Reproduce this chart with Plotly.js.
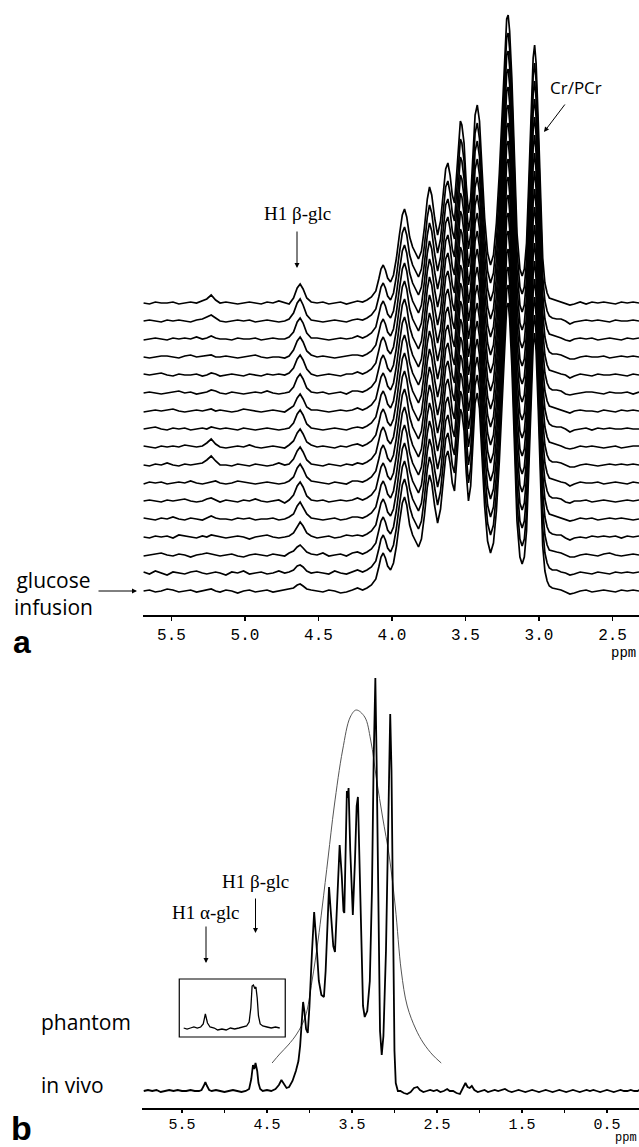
<!DOCTYPE html>
<html>
<head>
<meta charset="utf-8">
<script src="https://cdn.plot.ly/plotly-3.0.1.min.js"></script>
<style>html,body{margin:0;padding:0;background:#fff;}#chart{width:639px;height:1147px;}</style>
</head>
<body>
<div id="chart"></div>
<script>
// ---------------- Panel a : stacked spectra during glucose infusion ----------------
// chemical-shift grid (ppm)
const ppmLeft = [5.69, 5.65, 5.61, 5.57, 5.53, 5.49, 5.45, 5.41, 5.37, 5.33, 5.29, 5.26, 5.23, 5.20, 5.17, 5.13, 5.09, 5.05, 5.01, 4.97, 4.93, 4.89, 4.85, 4.81, 4.77, 4.73, 4.70, 4.67, 4.645, 4.625, 4.605, 4.58, 4.55, 4.51, 4.47, 4.43, 4.39, 4.35, 4.31, 4.27, 4.235];
const ppmCore = [4.20, 4.17, 4.14, 4.11, 4.09, 4.075, 4.06, 4.045, 4.03, 4.01, 3.99, 3.97, 3.95, 3.93, 3.915, 3.90, 3.88, 3.86, 3.84, 3.82, 3.80, 3.78, 3.76, 3.745, 3.73, 3.71, 3.69, 3.67, 3.65, 3.635, 3.62, 3.605, 3.59, 3.575, 3.56, 3.545, 3.535, 3.525, 3.51, 3.495, 3.48, 3.465, 3.45, 3.435, 3.42, 3.405, 3.39, 3.37, 3.35, 3.33, 3.31, 3.29, 3.27, 3.25, 3.235, 3.22, 3.21, 3.20, 3.185, 3.17, 3.15, 3.13, 3.115, 3.10, 3.085, 3.07, 3.055, 3.04, 3.03, 3.02, 3.005, 2.99, 2.975, 2.96, 2.945, 2.93];
const ppmRight = [2.91, 2.88, 2.85, 2.82, 2.79, 2.76, 2.72, 2.68, 2.64, 2.60, 2.56, 2.52, 2.48, 2.44, 2.40, 2.36, 2.32];

// metabolite region (Cr/PCr, Cho, Tau, Ins, ...) intensity
const coreIntensity = [1, 3, 6, 12, 24, 34, 38, 33, 25, 21, 28, 45, 68, 88, 94, 86, 66, 56, 50, 44, 52, 75, 104, 116, 108, 85, 68, 82, 112, 134, 140, 128, 108, 100, 130, 168, 182, 178, 160, 118, 90, 105, 150, 188, 198, 182, 140, 85, 50, 38, 48, 80, 130, 195, 250, 284, 288, 272, 225, 150, 70, 34, 27, 34, 60, 120, 190, 245, 258, 240, 180, 100, 45, 20, 10, 5];

// per-scan left part (noise + H1 beta-glc at 4.63 ppm), scan 1 = start of glucose infusion
const scanLeft = [
 [0,1,-1,0,2,1,-1,0,1,-1,0, 1,2,0,-1, 1,0,-2,0,1,-1,0,1,-1,0,1, 2,3,6,7,5,2,1, 0,-1,1,0,-2,-1,1,3],
 [1,-1,2,0,-2,1,0,-1,1,2,0, -1,0,1,0, -2,1,0,2,-1,0,1,-1,0,2,0, 1,3,7,8,6,2,0, 1,0,-1,2,0,-1,1,3],
 [-1,0,1,2,0,-1,1,0,-2,0,1, 2,1,0,-1, 0,1,-1,-2,0,1,0,-1,1,0,-1, 2,4,8,10,7,3,1, 0,2,-1,0,1,-1,2,3],
 [0,-1,1,0,1,-1,2,1,0,-1,1, 0,2,1,0, -1,0,1,0,-2,0,1,2,0,-1,0, 1,4,11,15,11,4,1, -1,0,1,-1,0,2,1,2],
 [1,0,-1,1,0,2,0,-1,1,0,-1, 1,3,1,0, 0,-1,1,0,1,-1,0,0,1,-1,0, 2,5,13,17,12,5,1, 0,-1,0,1,-1,0,2,2],
 [0,1,0,-1,1,0,1,2,0,-1,0, 2,3,1,-1, 1,0,-1,1,0,2,0,-1,0,1,-2, 1,6,15,19,14,5,1, 0,1,-1,0,1,0,1,3],
 [-1,1,0,1,-1,0,1,0,2,0,-1, 0,1,2,0, -1,0,2,1,0,-1,0,1,0,-1,0, 2,6,15,19,14,6,2, 1,0,-1,1,0,-1,2,2],
 [0,-1,1,0,2,0,-1,1,0,1,2, 5,9,4,0, 0,-1,1,0,-1,1,0,-1,0,2,0, 1,6,14,18,13,5,1, 0,-1,1,0,-1,1,0,2],
 [1,0,-1,1,0,1,0,2,1,0,1, 4,8,3,0, -1,0,1,0,2,0,-1,0,1,0,-1, 2,6,14,18,13,5,2, 0,1,0,-1,1,0,2,3],
 [0,1,2,0,-1,1,0,1,-1,0,1, 0,2,1,0, 1,0,-1,1,0,-1,0,1,0,-1,0, 1,6,15,19,14,5,1, 0,-1,0,1,0,-1,1,2],
 [-1,0,1,0,1,2,0,-1,0,1,0, 1,2,0,1, 0,-1,0,2,1,0,-1,0,1,0,-1, 2,5,13,17,12,4,1, 1,0,-1,0,1,0,1,3],
 [0,1,0,-1,0,1,2,0,1,-1,0, 1,3,2,0, -1,1,0,-1,0,1,0,2,0,-1,0, 1,6,15,19,14,5,1, 0,1,-1,0,1,-1,2,2],
 [1,0,1,2,0,-1,1,0,0,1,-1, 0,2,1,-1, 0,1,0,-1,1,0,-1,1,0,1,0, 2,7,16,20,15,6,1, -1,0,1,0,-1,1,1,3],
 [0,-1,0,1,1,0,-1,1,2,0,1, 1,2,0,0, 1,0,-1,0,1,2,0,-1,0,0,-1, 1,7,16,20,15,6,2, 0,1,0,-1,0,1,2,2],
 [-1,0,1,0,-1,1,0,1,0,2,0, 1,3,1,0, 0,-1,1,0,0,1,-1,0,1,0,0, 2,7,17,21,16,6,1, 1,0,-1,0,1,0,1,3],
 [0,1,0,-1,1,0,1,0,-1,1,2, 4,6,3,0, -1,0,1,0,1,-1,0,1,0,-1,0, 2,8,18,22,16,6,1, 0,-1,0,1,0,-1,1,2],
 [0,-1,1,0,0,1,-1,0,1,0,2, 4,8,3,0, 1,0,-1,0,1,0,-1,1,0,2,0, -1,5,15,19,14,5,1, 0,1,-1,0,1,-1,1,2]
];
// per-scan right part (upfield baseline)
const scanRight = [
 [3,2,1,-1,-3,-2,0,1,-1,0,1,0,-1,1,0,1,0],
 [3,3,1,0,-2,-1,1,0,-1,1,0,-1,1,0,1,0,1],
 [4,3,2,0,-2,-2,0,1,0,-1,1,2,0,-1,0,1,0],
 [3,2,2,-1,-3,-1,0,-1,1,0,1,0,1,-1,1,0,1],
 [4,3,1,0,-2,-1,1,0,1,-1,0,1,0,1,0,-1,0],
 [3,3,2,-1,-2,0,0,1,-1,0,1,0,-1,0,1,0,1],
 [4,2,1,0,-3,-1,1,0,0,1,-1,0,1,0,-1,1,0],
 [3,3,2,0,-2,-2,0,1,0,-1,0,1,0,1,0,1,0],
 [4,3,1,-1,-2,-1,1,0,1,0,-1,0,1,-1,0,1,1],
 [3,2,2,0,-3,-1,0,1,-1,1,0,1,0,0,1,0,0],
 [4,3,1,0,-2,0,1,0,0,-1,1,0,-1,1,0,1,0],
 [3,3,2,-1,-2,-1,0,1,1,0,-1,1,0,0,1,-1,1],
 [4,2,1,0,-3,-1,1,0,-1,1,0,0,1,0,-1,1,0],
 [3,3,2,0,-2,-2,0,1,0,0,1,-1,0,1,0,1,0],
 [4,3,1,-1,-2,0,1,0,1,-1,0,1,0,-1,1,0,1],
 [3,2,2,0,-3,-1,0,1,0,1,0,-1,1,0,0,1,0],
 [4,3,1,0,-2,-1,1,-1,1,0,1,0,-1,1,0,1,0]
];
const tickA = [5.5, 5.0, 4.5, 4.0, 3.5, 3.0, 2.5];
const tickALabels = ['5.5', '5.0', '4.5', '4.0', '3.5', '3.0', '2.5'];

// ---------------- Panel b : in vivo spectrum, phantom inset, excitation profile ----------------
const ppmVivo = [5.95,5.90,5.85,5.80,5.75,5.70,5.65,5.60,5.55,5.50,5.45,5.40,5.35,5.30,5.27,5.245,5.225,5.205,5.18,5.15,5.10,5.05,5.00,4.95,4.90,4.85,4.80,4.75,4.71,4.685,4.665,4.65,4.635,4.615,4.60,4.58,4.55,4.50,4.45,4.40,4.36,4.33,4.30,4.27,4.24,4.20,4.16,4.13,4.11,4.09,4.075,4.06,4.04,4.02,4.00,3.97,3.945,3.92,3.89,3.86,3.83,3.81,3.79,3.77,3.75,3.72,3.70,3.67,3.645,3.62,3.60,3.59,3.575,3.56,3.55,3.54,3.52,3.50,3.49,3.465,3.445,3.43,3.41,3.39,3.37,3.35,3.32,3.29,3.265,3.245,3.225,3.21,3.19,3.17,3.15,3.13,3.10,3.075,3.05,3.035,3.015,3.00,2.985,2.96,2.93,2.89,2.85,2.81,2.77,2.73,2.70,2.66,2.62,2.58,2.54,2.50,2.46,2.42,2.38,2.35,2.31,2.27,2.23,2.20,2.165,2.14,2.115,2.09,2.06,2.02,1.98,1.94,1.90,1.86,1.82,1.78,1.74,1.70,1.66,1.62,1.58,1.54,1.50,1.46,1.42,1.38,1.34,1.30,1.26,1.22,1.18,1.14,1.10,1.06,1.02,0.98,0.94,0.90,0.86,0.82,0.78,0.74,0.70,0.66,0.62,0.58,0.54,0.50,0.46,0.42,0.38,0.34,0.30,0.26,0.22,0.18,0.14,0.12];
const vivoIntensity = [0,1,0,1,-1,0,1,0,1,0,0,1,0,0,1,5,9,5,1,0,1,0,-1,0,1,0,-1,0,2,12,26,22,28,20,8,2,0,1,0,2,6,11,7,3,4,10,20,30,45,70,89,80,62,58,85,140,179,150,110,96,94,120,170,204,180,145,139,190,246,215,180,178,240,300,293,303,240,180,176,230,285,294,230,140,85,74,80,110,200,330,413,330,160,60,36,55,140,280,377,320,150,40,8,0,0,-2,-3,-1,3,4,1,-1,0,1,0,1,-1,0,2,0,0,-2,-3,2,8,4,3,5,1,-1,0,1,-1,0,1,0,1,2,0,-1,0,1,0,-1,0,1,0,-1,0,1,0,-1,0,1,0,-1,0,1,0,-1,0,1,0,1,0,-1,0,1,0,-1,0,1,0,0,1,0,0,1];

const ppmPhantom = [5.48,5.44,5.40,5.36,5.32,5.28,5.25,5.225,5.20,5.17,5.12,5.08,5.03,4.98,4.93,4.88,4.83,4.78,4.74,4.71,4.69,4.675,4.66,4.645,4.63,4.615,4.60,4.58,4.55,4.50,4.45,4.40,4.35];
const phantomIntensity = [0,-1,0,1,0,1,4,14,5,1,0,-2,-1,-2,0,-1,0,1,2,6,20,42,43,40,41,30,12,4,2,1,0,1,0];

const ppmProfile = [4.44,4.35,4.25,4.15,4.05,3.97,3.90,3.85,3.78,3.71,3.61,3.52,3.45,3.35,3.28,3.21,3.14,3.06,2.99,2.92,2.85,2.75,2.66,2.55,2.45];
const profileIntensity = [28,37,46,57,74,110,150,184,234,284,341,374,381,374,351,311,274,234,184,120,85,62,48,36,28];

const tickB = [5.5, 5.0, 4.5, 4.0, 3.5, 3.0, 2.5, 2.0, 1.5, 1.0, 0.5];
const tickBLabels = ['5.5', '', '4.5', '', '3.5', '', '2.5', '', '1.5', '', '0.5'];

// ---------------- layout constants ----------------
const W = 639, H = 1147;
const scanBase = 24, scanStep = 18;     // stacking offsets (panel a)
const vivoBase = 17, phantomBase = 80;  // offsets (panel b)
const px = v => v / W;
const py = v => 1 - v / H;
const monoFont = 'Liberation Mono, Courier New, monospace';
const sansFont = 'Open Sans, Noto Sans, sans-serif';
const serifFont = 'Liberation Serif, Times New Roman, serif';

const traces = [];
const ppmA = ppmLeft.concat(ppmCore, ppmRight);
for (let k = scanLeft.length - 1; k >= 0; k--) {
  const vals = scanLeft[k].concat(coreIntensity, scanRight[k]);
  traces.push({
    x: ppmA, y: vals.map(v => v + scanBase + k * scanStep),
    xaxis: 'x', yaxis: 'y', mode: 'lines', hoverinfo: 'skip',
    line: {color: '#000', width: 1.7}
  });
}
traces.push({x: ppmProfile, y: profileIntensity.map(v => v + vivoBase), xaxis: 'x2', yaxis: 'y2',
  mode: 'lines', line: {color: '#555', width: 1, shape: 'spline', smoothing: 1}, hoverinfo: 'skip'});
traces.push({x: ppmVivo, y: vivoIntensity.map(v => v + vivoBase), xaxis: 'x2', yaxis: 'y2',
  mode: 'lines', line: {color: '#000', width: 1.8}, hoverinfo: 'skip'});
traces.push({x: ppmPhantom, y: phantomIntensity.map(v => v + phantomBase), xaxis: 'x2', yaxis: 'y2',
  mode: 'lines', line: {color: '#000', width: 1.3}, hoverinfo: 'skip'});

const axisCommon = {
  showline: true, linecolor: '#000', linewidth: 1.6, ticks: 'outside', ticklen: 4,
  tickwidth: 1.4, tickcolor: '#000', showgrid: false, zeroline: false,
  tickfont: {family: monoFont, size: 16, color: '#000'}, fixedrange: true
};

const arrow = (hx, hy, tx, ty) => ({
  xref: 'paper', yref: 'paper', x: px(hx), y: py(hy), ax: tx - hx, ay: ty - hy,
  text: '', showarrow: true, arrowhead: 2, arrowsize: 1, arrowwidth: 1, arrowcolor: '#000', standoff: 0
});
const label = (text, cx, cy, font, size, anchor, bold, vanchor) => ({
  xref: 'paper', yref: 'paper', x: px(cx), y: py(cy), text: bold ? '<b>' + text + '</b>' : text,
  showarrow: false, xanchor: anchor || 'center', yanchor: vanchor || 'middle',
  font: {family: font, size: size, color: '#000'}
});

const layout = {
  width: W, height: H, margin: {l: 0, r: 0, t: 0, b: 0},
  paper_bgcolor: '#fff', plot_bgcolor: '#fff', showlegend: false,
  xaxis: Object.assign({}, axisCommon, {domain: [142.7 / W, 1], range: [5.696, 2.32], anchor: 'y',
    tickvals: tickA, ticktext: tickALabels}),
  yaxis: {domain: [py(615), 1], range: [0, 615], visible: false, fixedrange: true},
  xaxis2: Object.assign({}, axisCommon, {domain: [141.7 / W, 1], range: [5.974, 0.123], anchor: 'y2',
    tickvals: tickB, ticktext: tickBLabels, ticklen: 3, ticklabelstandoff: -2,
    tickfont: {family: monoFont, size: 15, color: '#000'}}),
  yaxis2: {domain: [py(1108), py(660)], range: [0, 448], visible: false, fixedrange: true},
  shapes: [{type: 'rect', xref: 'x2', yref: 'y2', x0: 5.532, x1: 4.285, y0: 71, y1: 129,
    line: {color: '#000', width: 1.2}}],
  annotations: [
    label('Cr/PCr', 576, 88, sansFont, 17),
    arrow(544, 132, 566, 103),
    label('H1 β-glc', 297, 213, serifFont, 19),
    arrow(297, 268, 297, 230),
    label('glucose<br>infusion', 12, 593, sansFont, 21, 'left'),
    arrow(137, 591, 97, 591),
    label('a', 22, 642, 'Liberation Sans, Arial, sans-serif', 32, 'center', true),
    label('ppm', 638, 653, monoFont, 14, 'right'),
    label('H1 β-glc', 255, 881, serifFont, 19),
    arrow(255.5, 933, 255.5, 897),
    label('H1 α-glc', 205, 912, serifFont, 19),
    arrow(206, 963, 206, 925),
    label('phantom', 39, 1022, sansFont, 21, 'left'),
    label('in vivo', 39, 1085, sansFont, 21, 'left'),
    label('b', 21, 1128, 'Liberation Sans, Arial, sans-serif', 34, 'center', true),
    label('ppm', 639, 1147, monoFont, 12, 'right', false, 'bottom')
  ]
};

Plotly.newPlot('chart', traces, layout, {staticPlot: true, displayModeBar: false});
</script>
</body>
</html>
